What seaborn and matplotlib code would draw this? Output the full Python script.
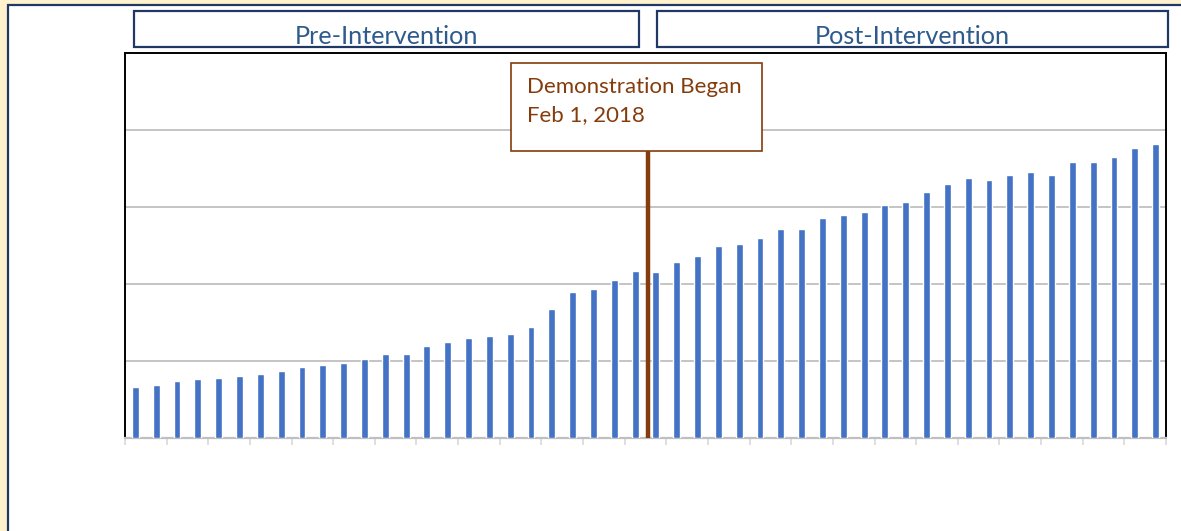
import numpy as np
import pandas as pd
import matplotlib.pyplot as plt
from matplotlib.patches import Rectangle
import seaborn as sns

# ---------------------------
# DATA
# ---------------------------
months = list(range(1, 51))
values = [0.66, 0.69, 0.74, 0.76, 0.78, 0.80, 0.83, 0.87, 0.92, 0.95,
          0.97, 1.02, 1.09, 1.09, 1.20, 1.25, 1.30, 1.32, 1.35, 1.44,
          1.67, 1.89, 1.93, 2.05, 2.17, 2.15, 2.29, 2.36, 2.50, 2.52,
          2.60, 2.71, 2.71, 2.86, 2.90, 2.93, 3.02, 3.07, 3.19, 3.30,
          3.38, 3.35, 3.42, 3.45, 3.42, 3.59, 3.59, 3.65, 3.77, 3.82]
intervention_pos = 24.6      # between month 25 and 26
annotation_lines = ["Demonstration Began", "Feb 1, 2018"]
period_labels = ["Pre-Intervention", "Post-Intervention"]

df = pd.DataFrame({"Month": months, "Value": values})

# ---------------------------
# STYLE
# ---------------------------
sns.set_style("white")
plt.rcParams['font.family'] = ['Lato', 'DejaVu Sans']

bar_color = "#4472C4"
brown = "#843C0C"
navy = "#203864"
title_blue = "#2E5B8C"
grid_grey = "#BFBFBF"

fig = plt.figure(figsize=(11.81, 5.31), dpi=100)
fig.patch.set_facecolor("#FFF2CC")

# white panel with navy frame (runs off the right and bottom edges)
W, H = 1181, 531
panel = Rectangle((8 / W, -0.2), 1.2, 1 - 5 / H + 0.2, transform=fig.transFigure,
                  facecolor="white", edgecolor=navy, linewidth=1.6, zorder=-5)
fig.patches.append(panel)

ax = fig.add_axes([125 / W, 1 - 438 / H, 1041 / W, 385 / H])

sns.barplot(data=df, x="Month", y="Value", color=bar_color, width=0.33,
            saturation=1, ax=ax, zorder=3)

ax.set_xlim(-0.5, 49.5)
ax.set_ylim(0, 5)
ax.set_xlabel("")
ax.set_ylabel("")

ax.set_xticks(np.arange(-0.5, 50, 2))
ax.set_xticklabels([])
ax.tick_params(axis='x', direction='out', length=5, width=1.2, color="#D9D9D9", bottom=True)
ax.set_yticks([1, 2, 3, 4])
ax.set_yticklabels([])
ax.tick_params(axis='y', length=0)
ax.yaxis.grid(True, color=grid_grey, linewidth=1.3)
ax.set_axisbelow(True)

for side in ['top', 'left', 'right']:
    ax.spines[side].set_color("black")
    ax.spines[side].set_linewidth(1.4)
ax.spines['bottom'].set_color(grid_grey)
ax.spines['bottom'].set_linewidth(1.6)

# ---------------------------
# INTERVENTION LINE + CALLOUT
# ---------------------------
box_bottom = (438 - 151) / 385
ax.plot([intervention_pos, intervention_pos], [0, box_bottom * 5],
        color=brown, linewidth=3.2, zorder=4, solid_capstyle='butt')

callout = Rectangle((386 / 1041, box_bottom), 251 / 1041, 88 / 385, transform=ax.transAxes,
                    facecolor="white", edgecolor=brown, linewidth=1.2, zorder=5)
ax.add_patch(callout)
ax.text(402 / 1041, (438 - 87) / 385, annotation_lines[0], transform=ax.transAxes,
        color=brown, fontsize=16, va='center', ha='left', zorder=6)
ax.text(402 / 1041, (438 - 115) / 385, annotation_lines[1], transform=ax.transAxes,
        color=brown, fontsize=16, va='center', ha='left', zorder=6)

# ---------------------------
# PERIOD HEADERS
# ---------------------------
for (x0, x1), label in zip([(134, 639), (657, 1168)], period_labels):
    hdr = Rectangle((x0 / W, 1 - 47 / H), (x1 - x0) / W, 36 / H, transform=fig.transFigure,
                    facecolor="white", edgecolor=navy, linewidth=1.6, zorder=2)
    fig.patches.append(hdr)
    fig.text((x0 + x1) / 2 / W, 1 - 44 / H, label, color=title_blue, fontsize=18.2,
             ha='center', va='baseline')

plt.savefig("out.png", dpi=100, facecolor=fig.get_facecolor())
